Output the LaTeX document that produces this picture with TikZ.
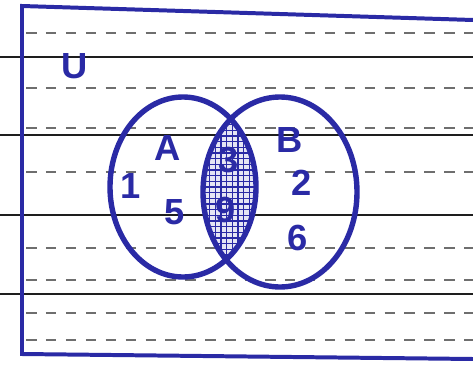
\documentclass[tikz,border=0pt]{standalone}
\usepackage{fontspec}
\setmainfont{Liberation Sans}
\definecolor{ink}{RGB}{42,42,165}
\definecolor{rule}{RGB}{30,30,30}
\definecolor{dash}{RGB}{110,110,110}
\tikzset{
  ruleline/.style={draw=rule, line width=1.2pt},
  dashline/.style={draw=dash, line width=1pt, dash pattern=on 9pt off 8pt},
  setring/.style={draw=ink, line width=4.6pt},
  frame/.style={draw=ink, line width=3.4pt},
  hand/.style={text=ink, font=\fontsize{31}{31}\selectfont\bfseries, inner sep=0pt}
}
\begin{document}
\begin{tikzpicture}[x=0.03cm, y=-0.03cm]
\useasboundingbox (0,0) rectangle (473,365);
\fill[white] (0,0) rectangle (473,365);
% ruled paper lines
\foreach \yy in {57,135,215,294} \draw[ruleline] (0,\yy) -- (473,\yy);
\foreach \yy in {33,88,128,172,248,280,313,340} \draw[dashline] (26,\yy) -- (473,\yy);
% frame
\draw[frame] (473,20) -- (22,6) -- (22,354) -- (473,359);
% sets
\coordinate (ca) at (183,187);
\coordinate (cb) at (280,192);
\begin{scope}
  \clip (ca) ellipse [x radius=73, y radius=90];
  \clip (cb) ellipse [x radius=77, y radius=95];
  \fill[ink!12] (150,80) rectangle (300,300);
  \draw[ink, line width=1pt, step=0.17cm] (150,80) grid (300,300);
\end{scope}
\draw[setring] (ca) ellipse [x radius=73, y radius=90];
\draw[setring] (cb) ellipse [x radius=77, y radius=95];
% labels
\node[hand] (U) at (75,66) {U};
\node[hand] (A) at (168,148) {A};
\node[hand] (B) at (290,140) {B};
\node[hand] (n1) at (131,186) {1};
\node[hand] (n5) at (175,212) {5};
\node[hand] (n3) at (229,160) {3};
\node[hand] (n9) at (226,210) {9};
\node[hand] (n2) at (302,183) {2};
\node[hand] (n6) at (298,238) {6};
\end{tikzpicture}
\end{document}
